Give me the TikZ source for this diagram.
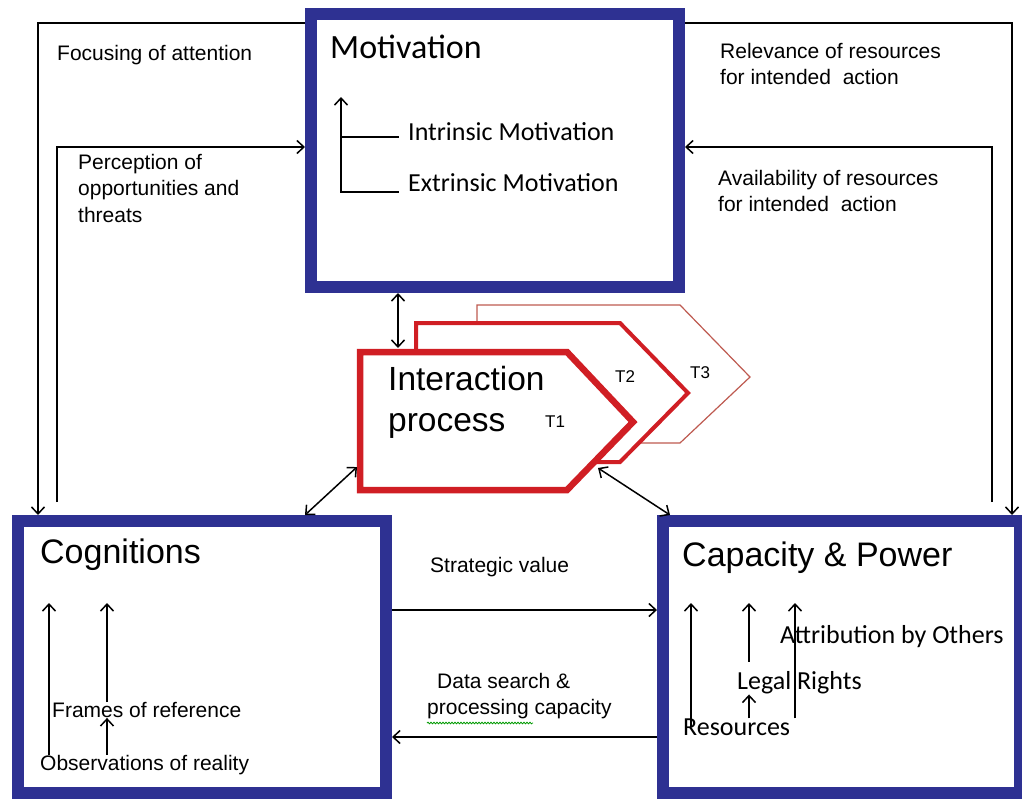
\documentclass[tikz,border=0pt]{standalone}
\usepackage{fontspec}
\setmainfont{Liberation Sans}
\newfontfamily\calibri{Carlito}
\usetikzlibrary{arrows.meta,positioning,decorations.pathmorphing}

\definecolor{boxblue}{RGB}{46,49,146}
\definecolor{procred}{RGB}{208,30,36}
\definecolor{palered}{RGB}{190,90,80}

\tikzset{
  bigbox/.style={draw=boxblue, line width=12pt, fill=white, inner sep=0pt},
  link/.style={line width=1.5pt},
  txt/.style={font=\fontsize{21}{26.5}\selectfont, align=left, inner sep=0pt, anchor=west},
  title/.style={font=\fontsize{34}{40}\selectfont, inner sep=0pt, anchor=west},
  inner/.style={font=\calibri\fontsize{26}{30}\selectfont, inner sep=0pt, anchor=west},
  tlab/.style={font=\fontsize{17}{20}\selectfont, inner sep=0pt, anchor=west}
}

\begin{document}
\begin{tikzpicture}[x=1pt, y=-1pt, >={Straight Barb[length=7pt,width=13pt]}]
\useasboundingbox (0,0) rectangle (1022,798);

% the three boxes
\node[bigbox, minimum width=368pt, minimum height=273pt] (mot) at (495,150.5) {};
\node[bigbox, minimum width=368pt, minimum height=272pt] (cog) at (202,657) {};
\node[bigbox, minimum width=357pt, minimum height=272pt] (cap) at (841.5,657) {};

\node[title, font=\calibri\fontsize{34}{40}\selectfont] (motT) at (330,47) {Motivation};
\node[title] (cogT) at (40,555) {Cognitions};
\node[title] (capT) at (682,558) {Capacity \& Power};

% loops round the top box
\coordinate (fa) at (38,23);
\coordinate (po) at (57,147);
\coordinate (po0) at (57,502);
\coordinate (ra) at (1012,23);
\coordinate (aa) at (992,147);
\coordinate (aa0) at (992,502);
\draw[link,->] (mot.west |- fa) -- (fa) -- (fa |- cog.north);
\draw[link,->] (po0) -- (po) -- (mot.west |- po);
\draw[link,->] (mot.east |- ra) -- (ra) -- (ra |- cap.north);
\draw[link,->] (aa0) -- (aa) -- (mot.east |- aa);

\node[txt] (focus) at (57,55) {Focusing of attention};
\node[txt] (percep) at (78,188) {Perception of\\opportunities and\\threats};
\node[txt] (relev) at (720,64) {Relevance of resources\\for intended\ \ action};
\node[txt] (avail) at (718,191) {Availability of resources\\for intended\ \ action};

% inside Motivation
\node[inner] (intr) at (408,132) {Intrinsic Motivation};
\node[inner] (extr) at (408,183) {Extrinsic Motivation};
\coordinate (mtip) at (341,97);
\draw[link] ([yshift=4pt]mtip |- intr.base) -- ([xshift=-9pt,yshift=4pt]intr.base west);
\draw[link] (mtip |- extr.base) -- ([xshift=-9pt]extr.base west);
\draw[link,->] ([yshift=-1pt]mtip |- extr.base) -- (mtip);

% interaction process, T3 behind T1
\filldraw[fill=white, draw=palered, line width=1.2pt] (477,305) -- (680,305) -- (750,377) -- (680,443) -- (477,443) -- cycle;
\filldraw[fill=white, draw=procred, line width=4pt] (416,323) -- (620,323) -- (688,393) -- (620,462) -- (416,462) -- cycle;
\filldraw[fill=white, draw=procred, line width=6.5pt] (360,352) -- (567,352) -- (633,422) -- (567,490) -- (360,490) -- cycle;

\node[txt, font=\fontsize{33.5}{41}\selectfont] (inter) at (388,402) {Interaction\\process};
\node[tlab] (t1) at (545,422) {T1};
\node[tlab] (t2) at (615,377) {T2};
\node[tlab] (t3) at (690,373) {T3};

\coordinate (mi) at (398,348);
\coordinate (ci) at (357,467);
\coordinate (cj) at (305,515);
\coordinate (pi) at (598,468);
\coordinate (pj) at (670,515);
\draw[link,<->] (mot.south -| mi) -- (mi);
\draw[link,<->] (cj) -- (ci);
\draw[link,<->] (pi) -- (pj);

% between the lower boxes
\coordinate (sv) at (0,610);
\coordinate (ds) at (0,737);
\draw[link,->] (cog.east |- sv) -- (cap.west |- sv);
\draw[link,->] (cap.west |- ds) -- (cog.east |- ds);
\node[txt] (strat) at (430,567) {Strategic value};
\node[txt] (data) at (427,696) {\hspace*{10pt}Data search \&\\processing capacity};
\draw[green!60!black, line width=0.8pt, decorate, decoration={snake, amplitude=0.8pt, segment length=3pt}] (427,723) -- (533,723);

% inside Cognitions
\node[txt] (frames) at (52,710) {Frames of reference};
\node[txt] (obs) at (40,765) {Observations of reality};
\coordinate (c1) at (49,603);
\coordinate (c2) at (107,603);
\draw[link,->] (c1 |- obs.north) -- (c1);
\draw[link,->] (c2 |- frames.north) -- (c2);
\draw[link,->] (c2 |- obs.north) -- (c2 |- frames.south);

% inside Capacity
\node[inner] (attr) at (780,637) {Attribution by Others};
\node[inner] (legal) at (737,683) {Legal Rights};
\node[inner] (res) at (683,727) {Resources};
\coordinate (p1) at (691,603);
\coordinate (p2) at (749,603);
\coordinate (p3) at (795,603);
\draw[link,->] (p1 |- res.center) -- (p1);
\draw[link,->] ([yshift=10pt]p2 |- legal.north) -- (p2);
\draw[link,->] (p3 |- res.north) -- (p3);
\draw[link,->] (p2 |- res.north) -- (p2 |- legal.south);

\end{tikzpicture}
\end{document}
